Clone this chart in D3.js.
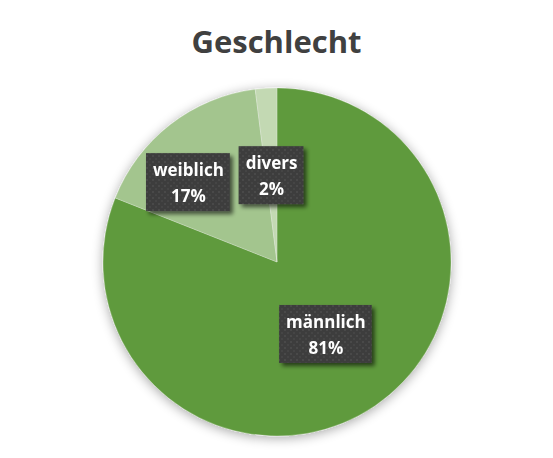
<!DOCTYPE html>
<html>
<head>
<meta charset="utf-8">
<script src="https://cdn.jsdelivr.net/npm/d3@7"></script>
<style>
  body { margin: 0; background: #fff; }
  svg { display: block; font-family: "Open Sans", "Liberation Sans", sans-serif; }
</style>
</head>
<body>
<svg width="553" height="458"></svg>
<script>
var title = "Geschlecht";
var categories = ["männlich", "weiblich", "divers"];
var values = [81, 17, 2];
var colors = ["#5f9a3c", "#a3c58e", "#c3d9b3"];

var width = 553, height = 458,
    cx = 277, cy = 262, radius = 174;

var svg = d3.select("svg");
var defs = svg.append("defs");

var shadow = defs.append("filter").attr("id", "pieShadow")
    .attr("x", "-20%").attr("y", "-20%").attr("width", "140%").attr("height", "140%");
shadow.append("feGaussianBlur").attr("in", "SourceAlpha").attr("stdDeviation", 6);
shadow.append("feOffset").attr("dx", 0).attr("dy", 2).attr("result", "b");
shadow.append("feComponentTransfer").append("feFuncA").attr("type", "linear").attr("slope", 0.35);
var m = shadow.append("feMerge");
m.append("feMergeNode");
m.append("feMergeNode").attr("in", "SourceGraphic");

var boxShadow = defs.append("filter").attr("id", "boxShadow")
    .attr("x", "-20%").attr("y", "-20%").attr("width", "150%").attr("height", "150%");
boxShadow.append("feGaussianBlur").attr("in", "SourceAlpha").attr("stdDeviation", 2);
boxShadow.append("feOffset").attr("dx", 3).attr("dy", 3);
boxShadow.append("feComponentTransfer").append("feFuncA").attr("type", "linear").attr("slope", 0.6);
var m2 = boxShadow.append("feMerge");
m2.append("feMergeNode");
m2.append("feMergeNode").attr("in", "SourceGraphic");

var pat = defs.append("pattern").attr("id", "dots")
    .attr("width", 6).attr("height", 6).attr("patternUnits", "userSpaceOnUse");
pat.append("rect").attr("width", 6).attr("height", 6).attr("fill", "#3d3d3d");
pat.append("rect").attr("x", 1).attr("y", 1).attr("width", 2).attr("height", 2).attr("fill", "#4a4a4a");
pat.append("rect").attr("x", 4).attr("y", 4).attr("width", 2).attr("height", 2).attr("fill", "#454545");

svg.append("text")
    .attr("x", width / 2)
    .attr("y", 53)
    .attr("text-anchor", "middle")
    .attr("font-size", 31)
    .attr("font-weight", "bold")
    .attr("fill", "#404040")
    .text(title);

var data = categories.map(function(c, i) { return {name: c, value: values[i]}; });

var pie = d3.pie()
    .sort(null)
    .value(function(d) { return d.value; });

var arc = d3.arc().innerRadius(0).outerRadius(radius);

var g = svg.append("g")
    .attr("transform", "translate(" + cx + "," + cy + ")");

g.append("g")
    .attr("filter", "url(#pieShadow)")
  .selectAll("path")
  .data(pie(data))
  .enter().append("path")
    .attr("d", arc)
    .attr("fill", function(d, i) { return colors[i]; })
    .attr("stroke", "#ffffff")
    .attr("stroke-opacity", 0.3)
    .attr("stroke-width", 0.8);

// label radius: Excel default is half the radius, weiblich was moved out a bit
var labelArc = d3.arc().innerRadius(radius * 0.5).outerRadius(radius * 0.5);
var moved = {"weiblich": [-15, 15]};

var labels = g.selectAll(".lbl")
  .data(pie(data))
  .enter().append("g")
    .attr("class", "lbl")
    .attr("filter", "url(#boxShadow)");

labels.each(function(d) {
  var sel = d3.select(this);
  var c = d.data.name === "weiblich"
      ? d3.arc().innerRadius(radius * 0.69).outerRadius(radius * 0.69).centroid(d)
      : labelArc.centroid(d);
  var off = moved[d.data.name] || [0, 0];
  var x = c[0] + off[0], y = c[1] + off[1];
  var t = sel.append("text")
      .attr("text-anchor", "middle")
      .attr("font-size", 17)
      .attr("font-weight", "bold")
      .attr("fill", "#ffffff");
  t.append("tspan").attr("x", x).attr("y", y - 6).text(d.data.name);
  t.append("tspan").attr("x", x).attr("y", y + 20).text(d.data.value + "%");
  var bb = t.node().getBBox();
  sel.insert("rect", "text")
      .attr("x", bb.x - 7)
      .attr("y", y - 29)
      .attr("width", bb.width + 13)
      .attr("height", 58)
      .attr("fill", "url(#dots)");
});
</script>
</body>
</html>
